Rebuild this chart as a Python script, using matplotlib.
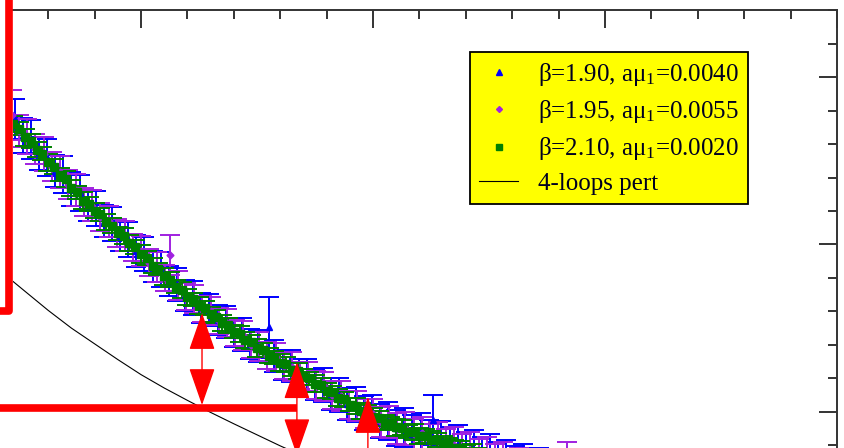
import matplotlib
matplotlib.use("Agg")
import matplotlib.pyplot as plt
from matplotlib.lines import Line2D
from matplotlib.patches import FancyArrowPatch, ArrowStyle
from matplotlib.ticker import MultipleLocator

plt.rcParams["mathtext.fontset"] = "custom"
plt.rcParams["mathtext.rm"] = "Liberation Serif"
plt.rcParams["mathtext.it"] = "Liberation Serif:italic"

# beta = 1.90, a mu_1 = 0.0040
b190_x = [4.55, 4.90, 5.25, 5.60, 5.95, 6.30, 6.65, 7.00, 7.35, 7.70,
          8.05, 8.40, 8.75, 9.10, 9.45, 9.80, 10.15, 10.50, 10.85, 11.20,
          11.55, 11.90, 12.25, 12.60, 12.95, 13.30, 13.65, 14.00, 14.35, 14.70,
          15.05, 15.50, 15.75, 16.10, 16.45, 16.80, 17.15, 17.50, 17.85, 18.20,
          18.55, 18.90, 19.25, 19.60, 19.95, 20.30, 20.65, 21.00, 21.35, 21.70,
          22.05, 22.40, 22.60, 22.95, 23.30, 23.65, 24.00, 24.35, 24.70, 25.05,
          25.40, 25.75, 26.10, 26.45, 26.80, 27.15]
b190_y = [0.2875, 0.2826, 0.2814, 0.2772, 0.2760, 0.2720, 0.2709, 0.2666, 0.2654, 0.2617,
          0.2608, 0.2571, 0.2561, 0.2525, 0.2516, 0.2481, 0.2471, 0.2435, 0.2425, 0.2390,
          0.2381, 0.2348, 0.2340, 0.2310, 0.2304, 0.2274, 0.2267, 0.2237, 0.2231, 0.2202,
          0.2197, 0.2252, 0.2166, 0.2141, 0.2137, 0.2111, 0.2108, 0.2082, 0.2079, 0.2053,
          0.2050, 0.2023, 0.2021, 0.1996, 0.1996, 0.1972, 0.1973, 0.1951, 0.1954, 0.1934,
          0.1936, 0.1917, 0.1975, 0.1913, 0.1895, 0.1897, 0.1879, 0.1882, 0.1863, 0.1866,
          0.1846, 0.1849, 0.1831, 0.1834, 0.1818, 0.1821]
b190_err = [0.0060, 0.0052, 0.0058, 0.0050, 0.0056, 0.0048, 0.0055, 0.0050, 0.0054, 0.0047,
            0.0053, 0.0048, 0.0052, 0.0046, 0.0052, 0.0047, 0.0050, 0.0046, 0.0051, 0.0045,
            0.0050, 0.0046, 0.0050, 0.0045, 0.0049, 0.0045, 0.0048, 0.0044, 0.0049, 0.0045,
            0.0048, 0.0090, 0.0048, 0.0045, 0.0049, 0.0046, 0.0050, 0.0046, 0.0051, 0.0047,
            0.0052, 0.0048, 0.0053, 0.0050, 0.0055, 0.0052, 0.0056, 0.0054, 0.0058, 0.0056,
            0.0060, 0.0058, 0.0075, 0.0060, 0.0059, 0.0062, 0.0060, 0.0064, 0.0062, 0.0066,
            0.0064, 0.0068, 0.0066, 0.0070, 0.0068, 0.0072]

# beta = 1.95, a mu_1 = 0.0055
b195_x = [4.45, 4.75, 5.10, 5.45, 5.80, 6.15, 6.50, 6.85, 7.20, 7.55,
          7.90, 8.25, 8.60, 8.95, 9.30, 9.65, 10.00, 10.35, 10.70, 11.05,
          11.25, 11.60, 11.95, 12.30, 12.65, 13.00, 13.35, 13.70, 14.05, 14.40,
          14.75, 15.10, 15.45, 15.80, 16.15, 16.50, 16.85, 17.20, 17.55, 17.90,
          18.25, 18.60, 18.95, 19.30, 19.65, 20.00, 20.35, 20.70, 21.05, 21.40,
          21.75, 22.10, 22.45, 22.80, 23.15, 23.50, 23.85, 24.20, 24.55, 24.90,
          25.25, 25.60, 26.30, 28.35]
b195_y = [0.2888, 0.2838, 0.2822, 0.2785, 0.2770, 0.2733, 0.2717, 0.2679, 0.2663, 0.2626,
          0.2616, 0.2582, 0.2569, 0.2534, 0.2524, 0.2491, 0.2480, 0.2445, 0.2433, 0.2400,
          0.2468, 0.2377, 0.2345, 0.2337, 0.2307, 0.2300, 0.2271, 0.2264, 0.2235, 0.2228,
          0.2200, 0.2195, 0.2168, 0.2164, 0.2138, 0.2135, 0.2109, 0.2105, 0.2080, 0.2076,
          0.2050, 0.2047, 0.2021, 0.2018, 0.1994, 0.1993, 0.1970, 0.1970, 0.1950, 0.1951,
          0.1932, 0.1935, 0.1914, 0.1917, 0.1897, 0.1900, 0.1881, 0.1884, 0.1866, 0.1868,
          0.1850, 0.1851, 0.1834, 0.1850]
b195_err = [0.0075, 0.0048, 0.0052, 0.0045, 0.0050, 0.0044, 0.0048, 0.0043, 0.0047, 0.0042,
            0.0046, 0.0042, 0.0046, 0.0041, 0.0045, 0.0041, 0.0045, 0.0040, 0.0044, 0.0040,
            0.0060, 0.0043, 0.0040, 0.0043, 0.0039, 0.0042, 0.0039, 0.0042, 0.0039, 0.0042,
            0.0039, 0.0042, 0.0039, 0.0042, 0.0040, 0.0043, 0.0040, 0.0043, 0.0041, 0.0044,
            0.0041, 0.0044, 0.0042, 0.0045, 0.0043, 0.0046, 0.0045, 0.0048, 0.0046, 0.0049,
            0.0047, 0.0050, 0.0049, 0.0052, 0.0050, 0.0053, 0.0052, 0.0055, 0.0053, 0.0056,
            0.0055, 0.0058, 0.0058, 0.0060]

# beta = 2.10, a mu_1 = 0.0020
b210_x = [4.50, 4.75, 5.00, 5.25, 5.50, 5.75, 6.00, 6.25, 6.50, 6.75,
          7.00, 7.25, 7.50, 7.75, 8.00, 8.25, 8.50, 8.75, 9.00, 9.25,
          9.50, 9.75, 10.00, 10.25, 10.50, 10.75, 11.00, 11.25, 11.50, 11.75,
          12.00, 12.25, 12.50, 12.75, 13.00, 13.25, 13.50, 13.75, 14.00, 14.25,
          14.50, 14.75, 15.00, 15.25, 15.50, 15.75, 16.00, 16.25, 16.50, 16.75,
          17.00, 17.25, 17.50, 17.75, 18.00, 18.25, 18.50, 18.75, 19.00, 19.25,
          19.50, 19.75, 20.00, 20.25, 20.50, 20.75, 21.00, 21.25, 21.50, 21.75,
          22.00, 22.25, 22.50, 22.75, 23.00, 23.25, 23.50, 23.75, 24.00, 24.25,
          24.50]
b210_y = [0.2860, 0.2846, 0.2820, 0.2808, 0.2783, 0.2771, 0.2746, 0.2733, 0.2709, 0.2695,
          0.2669, 0.2656, 0.2631, 0.2621, 0.2601, 0.2590, 0.2567, 0.2556, 0.2533, 0.2524,
          0.2503, 0.2493, 0.2471, 0.2460, 0.2437, 0.2427, 0.2405, 0.2395, 0.2374, 0.2365,
          0.2344, 0.2336, 0.2317, 0.2310, 0.2291, 0.2284, 0.2265, 0.2258, 0.2239, 0.2232,
          0.2214, 0.2208, 0.2190, 0.2185, 0.2168, 0.2163, 0.2147, 0.2142, 0.2126, 0.2121,
          0.2105, 0.2100, 0.2084, 0.2079, 0.2063, 0.2058, 0.2042, 0.2037, 0.2021, 0.2017,
          0.2002, 0.1999, 0.1984, 0.1981, 0.1967, 0.1966, 0.1953, 0.1952, 0.1940, 0.1940,
          0.1928, 0.1927, 0.1915, 0.1915, 0.1903, 0.1903, 0.1891, 0.1891, 0.1880, 0.1880,
          0.1869]
b210_err = [0.0024, 0.0020, 0.0026, 0.0021, 0.0023, 0.0019, 0.0025, 0.0022, 0.0020, 0.0024,
            0.0024, 0.0020, 0.0026, 0.0021, 0.0023, 0.0019, 0.0025, 0.0022, 0.0020, 0.0024,
            0.0024, 0.0020, 0.0026, 0.0021, 0.0023, 0.0019, 0.0025, 0.0022, 0.0020, 0.0024,
            0.0024, 0.0020, 0.0026, 0.0021, 0.0023, 0.0019, 0.0025, 0.0022, 0.0020, 0.0024,
            0.0024, 0.0020, 0.0026, 0.0021, 0.0023, 0.0019, 0.0025, 0.0022, 0.0020, 0.0024,
            0.0024, 0.0020, 0.0026, 0.0021, 0.0023, 0.0019, 0.0025, 0.0022, 0.0020, 0.0024,
            0.0024, 0.0020, 0.0026, 0.0021, 0.0023, 0.0019, 0.0025, 0.0022, 0.0020, 0.0024,
            0.0024, 0.0020, 0.0026, 0.0021, 0.0023, 0.0019, 0.0025, 0.0022, 0.0020, 0.0024,
            0.0024]

# 4-loop perturbative curve
pert_x = [4.3, 5.0, 6.0, 7.0, 8.0, 9.0, 10.0, 11.0, 12.0, 13.0,
          14.0, 15.0, 16.0, 17.0, 18.0, 20.0]
pert_y = [0.2400, 0.2360, 0.2303, 0.2250, 0.2203, 0.2156, 0.2111, 0.2071, 0.2034, 0.1998,
          0.1964, 0.1931, 0.1898, 0.1867, 0.1837, 0.1780]

labels = [r"β=1.90, aμ$_1$=0.0040", r"β=1.95, aμ$_1$=0.0055",
          r"β=2.10, aμ$_1$=0.0020", "4-loops pert"]

# red markings: bracket on the left, level line, and double arrows
bracket_x = [3.9, 4.332, 4.332]
bracket_y = [0.2301, 0.2301, 0.33]
level_x = [3.9, 16.72]
level_y = [0.2011, 0.2011]
arrow_x = [12.63, 16.72, 19.78]
arrow_top = [0.2295, 0.2148, 0.2044]
arrow_bottom = [0.2020, 0.1870, 0.1700]

BLUE = "#0000ff"
MAGENTA = "#a020e0"
GREEN = "#008000"

fig = plt.figure(figsize=(8.44, 4.48), dpi=100)
# axes run past the bottom of the canvas; the left side is cut at the red bar
ax = fig.add_axes([13 / 844, 1 - 579 / 448, 824 / 844, 568.7 / 448])
ax.set_xlim(4.483, 40)
ax.set_ylim(0.15, 0.32)

ekw = dict(linestyle="none", capsize=7.2, elinewidth=1.4, capthick=1.4)
ax.errorbar(b190_x, b190_y, yerr=b190_err, color=BLUE, marker="^",
            markersize=5, **ekw)
ax.errorbar(b195_x, b195_y, yerr=b195_err, color=MAGENTA, marker="D",
            markersize=3.5, **ekw)
ax.errorbar(b210_x, b210_y, yerr=b210_err, color=GREEN, marker="s",
            markersize=5.5, **ekw)
ax.plot(pert_x, pert_y, color="black", lw=0.8)

ax.xaxis.set_major_locator(MultipleLocator(10))
ax.xaxis.set_minor_locator(MultipleLocator(2))
ax.yaxis.set_major_locator(MultipleLocator(0.05))
ax.yaxis.set_minor_locator(MultipleLocator(0.01))
ax.tick_params(which="both", direction="in", top=True, right=True,
               bottom=False, left=False, labeltop=False, labelright=False,
               labelbottom=False, labelleft=False, color="#333333", width=1.4)
ax.tick_params(which="major", length=12.7)
ax.tick_params(which="minor", length=6.5)
for s in ax.spines.values():
    s.set_color("#333333")
    s.set_linewidth(1.4)
ax.spines["left"].set_visible(False)

handles = [
    Line2D([], [], color=BLUE, marker="^", ls="none", markersize=4.5),
    Line2D([], [], color=MAGENTA, marker="D", ls="none", markersize=3),
    Line2D([], [], color=GREEN, marker="s", ls="none", markersize=4.5),
    Line2D([], [], color="black", lw=0.8),
]
leg = ax.legend(handles, labels, loc="upper right",
                bbox_to_anchor=(748 / 844, 1 - 52 / 448),
                bbox_transform=fig.transFigure, borderaxespad=0,
                fancybox=False, framealpha=1, facecolor="#ffff00",
                edgecolor="black", handlelength=1.55, handletextpad=0.8,
                labelspacing=0.41, borderpad=0.36,
                prop={"family": "Liberation Serif", "size": 18})
leg.get_frame().set_linewidth(1.3)
for t in leg.get_texts():
    t.set_color("#000020")

# red guide marks
ax.plot(bracket_x, bracket_y, color="red", lw=5.5, clip_on=False,
        solid_joinstyle="round", solid_capstyle="butt", zorder=6)
ax.plot(level_x, level_y, color="red", lw=5.5, clip_on=False,
        solid_capstyle="butt", zorder=6)
head = ArrowStyle("<|-|>", head_length=23.8, head_width=8.3)
for xa, yt, yb in zip(arrow_x, arrow_top, arrow_bottom):
    ax.add_patch(FancyArrowPatch((xa, yb), (xa, yt), arrowstyle=head,
                                 mutation_scale=1, color="red", lw=1.0,
                                 shrinkA=0, shrinkB=0, zorder=7))

fig.savefig("out.png", dpi=100)
